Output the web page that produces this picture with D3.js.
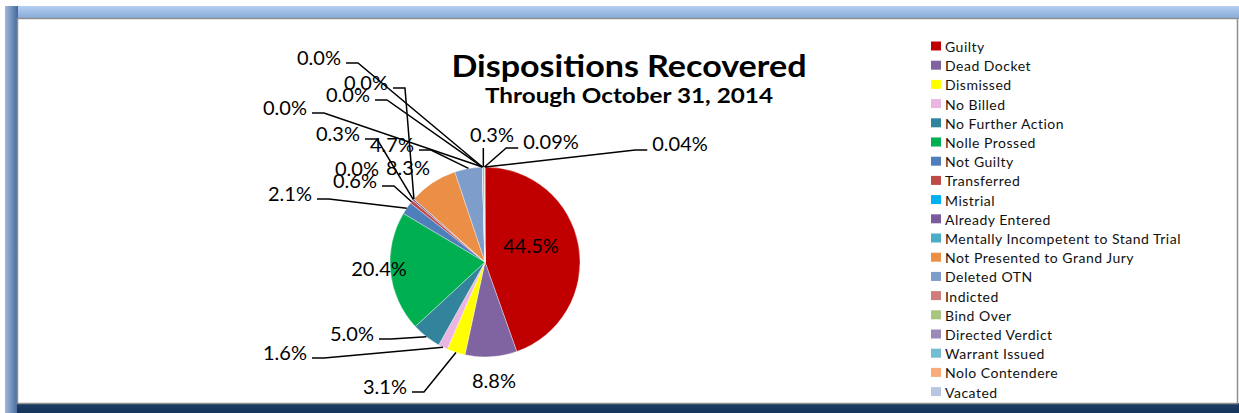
<!DOCTYPE html>
<html>
<head>
<meta charset="utf-8">
<script src="https://cdn.jsdelivr.net/npm/d3@7"></script>
<style>
    html, body { margin: 0; padding: 0; background: #fff; }
    svg { display: block; }
    .pct-label { font-family: Lato, "Open Sans", sans-serif; font-size: 20px; fill: #000; }
    .legend-text { font-family: Lato, "Open Sans", sans-serif; font-size: 14px; letter-spacing: 0.5px; fill: #111; }
    .title { font-family: Lato, "Open Sans", sans-serif; font-weight: bold; fill: #000; }
</style>
</head>
<body>
<div id="chart"></div>
<script>
// ===== data =====
// categories in pie order (clockwise from 12 o'clock)
const categories = [
    'Guilty', 'Dead Docket', 'Dismissed', 'No Billed', 'No Further Action',
    'Nolle Prossed', 'Not Guilty', 'Transferred', 'Mistrial', 'Already Entered',
    'Mentally Incompetent to Stand Trial', 'Not Presented to Grand Jury', 'Deleted OTN',
    'Indicted', 'Bind Over', 'Directed Verdict', 'Warrant Issued', 'Nolo Contendere', 'Vacated'
];
// share of dispositions, percent
const shares = [44.5, 8.8, 3.1, 1.6, 5.0, 20.4, 2.1, 0.6, 0.0, 0.3, 0.0, 8.3, 4.7, 0.0, 0.0, 0.0, 0.3, 0.09, 0.04];
const sliceColors = [
    '#c00000', '#8064a2', '#ffff00', '#ebb5e2', '#31849b',
    '#00b050', '#4f7fbb', '#be4b48', '#00b0f0', '#7a5c9e',
    '#4bacc6', '#ea8f45', '#7e9dcb', '#d07e7b', '#a9c47f',
    '#9e8ab8', '#74bccf', '#f8aa7a', '#b8c6e2'
];
const titleText = 'Dispositions Recovered';
const subtitleText = 'Through October 31, 2014';

// label placement (text centre) and leader direction, like Excel's manual label drag
const labelPlacement = {
    'Guilty': { x: 531, y: 245, side: 'none' },
    'Dead Docket': { x: 494, y: 380, side: 'none' },
    'Dismissed': { x: 385, y: 386, side: 'right' },
    'No Billed': { x: 285, y: 352, side: 'right' },
    'No Further Action': { x: 352, y: 333, side: 'right' },
    'Nolle Prossed': { x: 379, y: 268, side: 'none' },
    'Not Guilty': { x: 290, y: 193, side: 'right' },
    'Transferred': { x: 355, y: 180, side: 'right' },
    'Mistrial': { x: 357, y: 168, side: 'none' },
    'Already Entered': { x: 338, y: 133, side: 'right' },
    'Mentally Incompetent to Stand Trial': { x: 366, y: 82, side: 'right' },
    'Not Presented to Grand Jury': { x: 408, y: 167, side: 'none' },
    'Deleted OTN': { x: 392, y: 144, side: 'right' },
    'Indicted': { x: 319, y: 57, side: 'right' },
    'Bind Over': { x: 348, y: 94, side: 'right' },
    'Directed Verdict': { x: 285, y: 107, side: 'right' },
    'Warrant Issued': { x: 492, y: 134, side: 'down' },
    'Nolo Contendere': { x: 551, y: 141, side: 'left' },
    'Vacated': { x: 680, y: 143, side: 'left' }
};

const width = 1239, height = 413;

// percent format: two decimals for tiny non-zero values
function fmtPct(v) {
    return (v > 0 && v < 0.1) ? v.toFixed(2) + '%' : v.toFixed(1) + '%';
}

const svg = d3.select('#chart')
    .append('svg')
    .attr('width', width)
    .attr('height', height);

// ----- frame (bevelled border around the chart area) -----
const defs = svg.append('defs');
const topGrad = defs.append('linearGradient').attr('id', 'topGrad')
    .attr('x1', 0).attr('y1', 0).attr('x2', 0).attr('y2', 1);
topGrad.append('stop').attr('offset', '0%').attr('stop-color', '#b3cff1');
topGrad.append('stop').attr('offset', '100%').attr('stop-color', '#86a9d6');
const leftGrad = defs.append('linearGradient').attr('id', 'leftGrad')
    .attr('x1', 0).attr('y1', 0).attr('x2', 1).attr('y2', 0);
leftGrad.append('stop').attr('offset', '0%').attr('stop-color', '#9fb9de');
leftGrad.append('stop').attr('offset', '100%').attr('stop-color', '#43679a');
const botGrad = defs.append('linearGradient').attr('id', 'botGrad')
    .attr('x1', 0).attr('y1', 0).attr('x2', 0).attr('y2', 1);
botGrad.append('stop').attr('offset', '0%').attr('stop-color', '#1d3d66');
botGrad.append('stop').attr('offset', '100%').attr('stop-color', '#17345a');

svg.append('rect').attr('x', 0).attr('y', 0).attr('width', width).attr('height', height).attr('fill', '#fff');
svg.append('rect').attr('x', 5).attr('y', 6).attr('width', width - 5).attr('height', 13).attr('fill', 'url(#topGrad)');
svg.append('rect').attr('x', 5).attr('y', 6).attr('width', 13).attr('height', height - 6).attr('fill', 'url(#leftGrad)');
svg.append('rect').attr('x', 17).attr('y', 403).attr('width', width - 17).attr('height', 10).attr('fill', 'url(#botGrad)');
svg.append('rect')
    .attr('x', 17.5).attr('y', 18.5)
    .attr('width', 1220).attr('height', 385)
    .attr('fill', '#fff')
    .attr('stroke', '#8e8e8e')
    .attr('stroke-width', 1.5);

// ----- title -----
svg.append('text')
    .attr('class', 'title')
    .attr('x', 629).attr('y', 77)
    .attr('text-anchor', 'middle')
    .attr('font-size', 31)
    .attr('textLength', 355)
    .attr('lengthAdjust', 'spacingAndGlyphs')
    .text(titleText);
svg.append('text')
    .attr('class', 'title')
    .attr('x', 629).attr('y', 103)
    .attr('text-anchor', 'middle')
    .attr('font-size', 21)
    .attr('textLength', 288)
    .attr('lengthAdjust', 'spacingAndGlyphs')
    .text(subtitleText);

// ----- pie -----
const cx = 485, cy = 262, radius = 95;
const data = categories.map((c, i) => ({ name: c, value: shares[i], color: sliceColors[i] }));

const pie = d3.pie()
    .sort(null)
    .value(d => d.value);
const arcs = pie(data);

const arc = d3.arc().innerRadius(0).outerRadius(radius);
const edgeArc = d3.arc().innerRadius(radius).outerRadius(radius);

const g = svg.append('g').attr('transform', `translate(${cx},${cy})`);

g.selectAll('path.slice')
    .data(arcs)
    .enter()
    .append('path')
    .attr('class', 'slice')
    .attr('d', arc)
    .attr('fill', d => d.data.color)
    .attr('stroke', '#fff')
    .attr('stroke-width', 0.5)
    .attr('stroke-opacity', 0.7);

// ----- labels + leader lines -----
const labelLayer = svg.append('g');
const leaderLayer = svg.append('g');

arcs.forEach(d => {
    const p = labelPlacement[d.data.name];
    const t = labelLayer.append('text')
        .attr('class', 'pct-label')
        .attr('x', p.x).attr('y', p.y)
        .attr('text-anchor', 'middle')
        .attr('dominant-baseline', 'central')
        .text(fmtPct(d.data.value));

    if (p.side === 'none') return;

    const w = t.node().getComputedTextLength();
    const c = edgeArc.centroid(d);
    const end = [cx + c[0], cy + c[1]];
    let pts;
    if (p.side === 'right') {
        const sx = p.x + w / 2 + 5, sy = p.y + 6;
        pts = [[sx, sy], [sx + 12, sy], end];
    } else if (p.side === 'left') {
        const sx = p.x - w / 2 - 5, sy = p.y + 7;
        pts = [[sx, sy], [sx - 12, sy], end];
    } else {
        pts = [[end[0], p.y + 14], end];
    }
    leaderLayer.append('path')
        .attr('d', d3.line()(pts))
        .attr('fill', 'none')
        .attr('stroke', '#000')
        .attr('stroke-width', 1.5);
});

// ----- legend -----
const legend = svg.append('g').attr('transform', 'translate(931,46)');
const rowH = 19.2;

const items = legend.selectAll('g.item')
    .data(data)
    .enter()
    .append('g')
    .attr('class', 'item')
    .attr('transform', (d, i) => `translate(0,${i * rowH})`);

items.append('rect')
    .attr('x', 0).attr('y', -4.5)
    .attr('width', 10).attr('height', 9)
    .attr('fill', d => d.color);

items.append('text')
    .attr('class', 'legend-text')
    .attr('x', 14).attr('y', 0.5)
    .attr('dominant-baseline', 'central')
    .text(d => d.name);
</script>
</body>
</html>
